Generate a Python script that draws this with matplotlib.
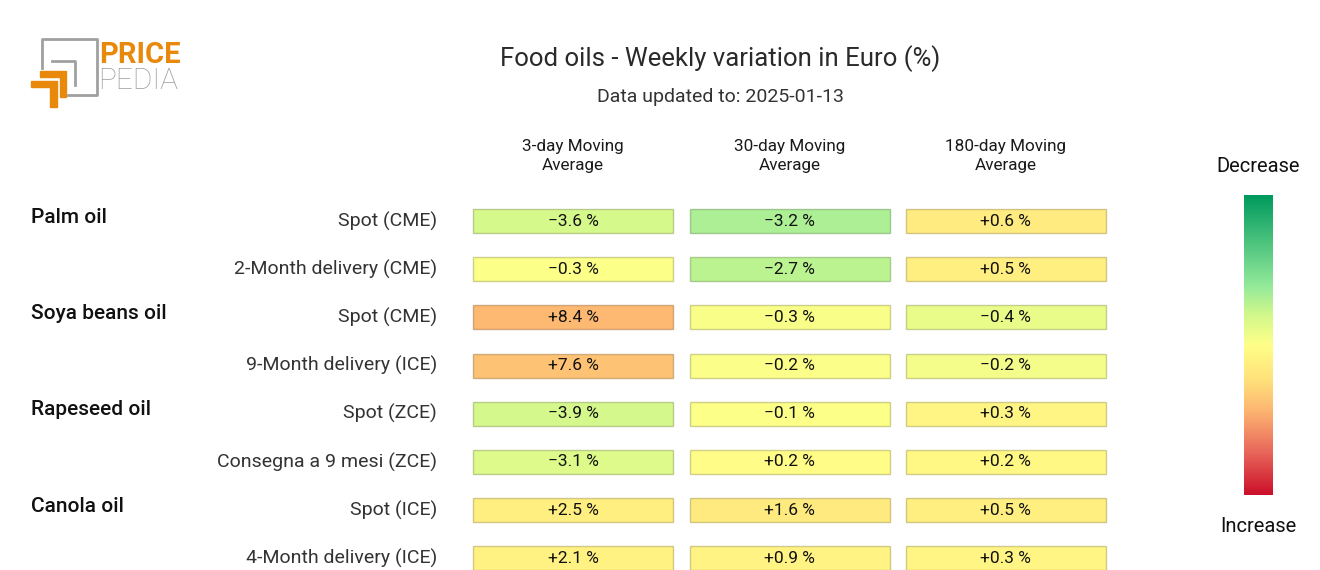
import numpy as np
import matplotlib
matplotlib.use("Agg")
import matplotlib.pyplot as plt
from matplotlib.colors import LinearSegmentedColormap
from matplotlib.patches import Rectangle, Polygon
from matplotlib.transforms import blended_transform_factory

plt.rcParams['font.family'] = ['Roboto', 'DejaVu Sans']

W, H = 1320, 570

title = "Food oils - Weekly variation in Euro (%)"
subtitle = "Data updated to: 2025-01-13"
columns = ["3-day Moving\nAverage", "30-day Moving\nAverage", "180-day Moving\nAverage"]
groups = ["Palm oil", "Soya beans oil", "Rapeseed oil", "Canola oil"]
groupStart = [0, 2, 4, 6]
rowLabels = [
    "Spot (CME)", "2-Month delivery (CME)",
    "Spot (CME)", "9-Month delivery (ICE)",
    "Spot (ZCE)", "Consegna a 9 mesi (ZCE)",
    "Spot (ICE)", "4-Month delivery (ICE)",
]
ma3 = [-3.6, -0.3, 8.4, 7.6, -3.9, -3.1, 2.5, 2.1]
ma30 = [-3.2, -2.7, -0.3, -0.2, -0.1, 0.2, 1.6, 0.9]
ma180 = [0.6, 0.5, -0.4, -0.2, 0.3, 0.2, 0.5, 0.3]
# colour scale half-range per column
colScale = [20, 10, 4]

cmap = LinearSegmentedColormap.from_list("pp", [
    (0.0, "#009A5E"), (0.3, "#92E99A"), (0.4, "#D2F88B"), (0.5, "#FFFF88"),
    (0.62, "#FFE07A"), (0.72, "#FDB571"), (0.86, "#E8665A"), (1.0, "#CC0F2A"),
])

cellFont = ['Liberation Sans Narrow', 'Roboto', 'DejaVu Sans']


def px(x0, y0, x1, y1):
    # pixel box -> figure fraction rect
    return [x0 / W, 1 - y1 / H, (x1 - x0) / W, (y1 - y0) / H]


fig = plt.figure(figsize=(W / 100, H / 100), dpi=100)

fig.text(720 / W, 1 - 59 / H, title, ha='center', va='center', fontsize=18.5, color='#2a2a2a')
fig.text(720 / W, 1 - 97 / H, subtitle, ha='center', va='center', fontsize=14, color='#333333')

# heatmap
rowStep = 48.2
colStep = (1106 - 473 + 16) / 3
axTop = 221 - rowStep / 2
ax = fig.add_axes(px(465, axTop, 1114, H))
ax.set_xlim(0, 3)
ax.set_ylim(-0.5 + (H - axTop) / rowStep, -0.5)
ax.axis('off')

cellW = 200 / colStep
cellH = 24 / rowStep
values = [ma3, ma30, ma180]
for c, col in enumerate(values):
    for r, v in enumerate(col):
        face = cmap(0.5 + 0.5 * np.clip(v / colScale[c], -1, 1))
        edge = tuple(0.7 * np.array(face[:3]))
        ax.add_patch(Rectangle((c + 0.5 - cellW / 2, r - cellH / 2), cellW, cellH,
                               facecolor=face, edgecolor=edge + (0.6,), linewidth=1, clip_on=False))
        ax.text(c + 0.5, r, f"{v:+.1f} %".replace("-", "\u2212"), ha='center', va='center',
                fontsize=12.5, color='#111111', clip_on=False, family=cellFont)
    fig.text((465 + (c + 0.5) * colStep) / W, 1 - 156 / H, columns[c], ha='center', va='center',
             fontsize=12.3, color='#1a1a1a', linespacing=1.4)

tr = blended_transform_factory(fig.transFigure, ax.transData)
for r, lab in enumerate(rowLabels):
    ax.text(437 / W, r, lab, transform=tr, ha='right', va='center', fontsize=14,
            color='#333333')
for g, s in zip(groups, groupStart):
    ax.text(31 / W, s - 0.08, g, transform=tr, ha='left', va='center', fontsize=15,
            color='#111111', fontweight='medium')

# colour bar
cax = fig.add_axes(px(1244, 195, 1273, 495))
cax.imshow(np.linspace(0, 1, 256)[:, None], aspect='auto', cmap=cmap)
cax.axis('off')
fig.text(1258 / W, 1 - 167 / H, "Decrease", ha='center', va='center', fontsize=14.5, color='#111111')
fig.text(1258 / W, 1 - 527 / H, "Increase", ha='center', va='center', fontsize=14.5, color='#111111')

# logo
lax = fig.add_axes([0, 0, 1, 1], zorder=5)
lax.set_xlim(0, W)
lax.set_ylim(H, 0)
lax.axis('off')
gray = '#a0a0a0'
orange = '#E8890C'
lax.plot([42, 42, 97, 97, 68], [68, 39, 39, 95, 95], color=gray, lw=2, solid_capstyle='projecting')
lax.plot([52, 75, 75], [61, 61, 85], color=gray, lw=2, solid_capstyle='projecting')
lax.add_patch(Polygon([[40, 71], [66, 71], [66, 97], [60, 97], [60, 77], [40, 77]], color=orange))
lax.add_patch(Polygon([[31, 81], [57, 81], [57, 107], [50, 107], [50, 87], [31, 87]], color=orange))
lax.text(99, 55, "PRICE", ha='left', va='center', fontsize=21, color=orange, fontweight='bold')
lax.text(98, 81, "PEDIA", ha='left', va='center', fontsize=21.5, color=gray, fontweight='light')

fig.savefig("out.png", dpi=100)
